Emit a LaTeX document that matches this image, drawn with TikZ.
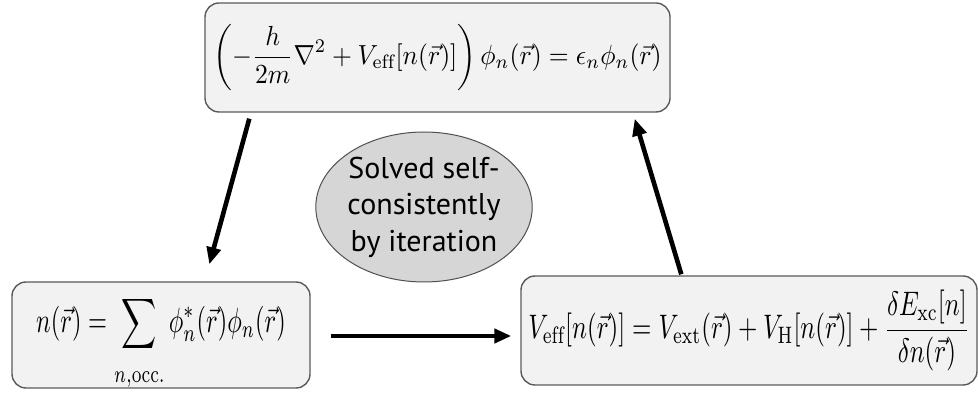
\documentclass[tikz,border=0pt]{standalone}
\usepackage{amssymb}
\usepackage{amsmath}
\usepackage{graphicx}
\usepackage{fontspec}
\newfontfamily\notefont{PT Sans}
\usepackage{tikz}
\usetikzlibrary{calc,arrows.meta,shapes.geometric}

\definecolor{boxfill}{HTML}{F2F2F2}
\definecolor{boxline}{HTML}{5A5A5A}
\definecolor{notefill}{HTML}{D6D6D6}
\definecolor{noteline}{HTML}{505050}
\newcommand{\eqtext}[3]{\scalebox{#1}[#2]{$\displaystyle #3$}}

\begin{document}
\begin{tikzpicture}[x=0.5pt, y=-0.5pt,
    eqbox/.style={draw=boxline, fill=boxfill, rounded corners=7pt, line width=0.7pt, inner sep=0pt},
    loopnote/.style={ellipse, draw=noteline, fill=notefill, line width=0.5pt, inner sep=0pt, align=center,
        font=\notefont\fontsize{15}{18.2}\selectfont},
    flow/.style={line width=2.3pt, -{Triangle[length=8.5pt,width=7pt]}}]
    \useasboundingbox (0,0) rectangle (978,394);
    % the three equations
    \node[eqbox, minimum width=232.5pt, minimum height=54.5pt] (kseq) at (437.5,57.5)
        {\eqtext{1.28}{1.38}{\left(-\frac{h}{2m}\nabla^2 + V_{\mathrm{eff}}[n(\vec{r})]\right)\phi_n(\vec{r}) = \epsilon_n\phi_n(\vec{r})}};
    \node[eqbox, minimum width=149pt, minimum height=53pt] (dens) at (161,335)
        {\raisebox{-4pt}[\height][\depth]{\eqtext{1.22}{1.75}{n(\vec{r}) = \sum_{\rule{0pt}{7pt}n,\mathrm{occ.}} \phi_n^*(\vec{r})\phi_n(\vec{r})}}};
    \node[eqbox, minimum width=228pt, minimum height=54.5pt] (veff) at (749,330.5)
        {\eqtext{1.245}{1.7}{V_{\mathrm{eff}}[n(\vec{r})] = V_{\mathrm{ext}}(\vec{r}) + V_{\mathrm{H}}[n(\vec{r})] + \frac{\delta E_{\mathrm{xc}}[n]}{\delta n(\vec{r})}}};
    % note in the middle
    \node[loopnote, minimum width=101.5pt, minimum height=75pt] (scf) at (424,207)
        {Solved self-\\consistently\\by iteration};
    % the loop
    \draw[flow] ($(kseq.south west)+(45,6)$) -- ($(dens.north west)+(198,-17)$);
    \draw[flow] ($(dens.east)+(20,1)$) -- ($(veff.west)+(-9,5.5)$);
    \draw[flow] ($(veff.north west)+(161,-1)$) -- ($(kseq.south east)+(-36,6)$);
\end{tikzpicture}
\end{document}
